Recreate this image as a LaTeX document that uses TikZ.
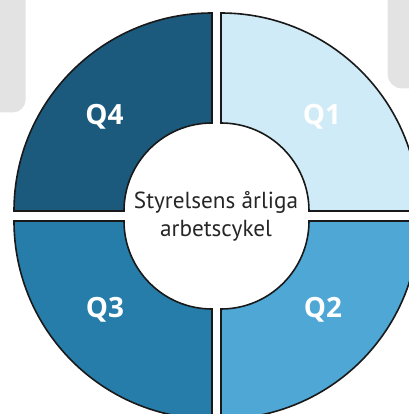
\documentclass[tikz,border=0pt]{standalone}
\usepackage{fontspec}
\setmainfont{PT Sans}
\newfontfamily\labelfont{Open Sans}
\definecolor{graybg}{HTML}{E3E3E3}
\definecolor{cQone}{HTML}{CFEBF7}
\definecolor{cQtwo}{HTML}{4FA7D5}
\definecolor{cQthree}{HTML}{267DA9}
\definecolor{cQfour}{HTML}{1B5A7D}
\begin{document}
\begin{tikzpicture}[x=1bp,y=1bp,
  quad/.style={draw=black!90, line width=1.6bp, line join=miter},
  qlabel/.style={text=white, font=\labelfont\fontsize{28}{30}\selectfont\bfseries, inner sep=0pt},
  center/.style={align=center, font=\fontsize{23.3}{28}\selectfont, text=black!85, inner sep=0pt}]
\useasboundingbox (0,0) rectangle (409,414);
\clip (0,0) rectangle (409,414);
% background gray tabs
\fill[graybg, rounded corners=13bp] (-20,301.5) rectangle (25.7,440);
\fill[graybg, rounded corners=14bp] (387.7,325.7) rectangle (440,440);
% Q4 (top left)
\begin{scope}[shift={(212,203)}]
\draw[quad, fill=cQfour] (180:198) arc[start angle=180, end angle=90, radius=198bp] -- (90:88) arc[start angle=90, end angle=180, radius=88bp] -- cycle;
\end{scope}
% Q1 (top right)
\begin{scope}[shift={(221,203)}]
\draw[quad, fill=cQone] (90:198) arc[start angle=90, end angle=0, radius=198bp] -- (0:88) arc[start angle=0, end angle=90, radius=88bp] -- cycle;
\end{scope}
% Q3 (bottom left)
\begin{scope}[shift={(212,193)}]
\draw[quad, fill=cQthree] (270:198) arc[start angle=270, end angle=180, radius=198bp] -- (180:88) arc[start angle=180, end angle=270, radius=88bp] -- cycle;
\end{scope}
% Q2 (bottom right)
\begin{scope}[shift={(221,193)}]
\draw[quad, fill=cQtwo] (0:198) arc[start angle=0, end angle=-90, radius=198bp] -- (-90:88) arc[start angle=-90, end angle=0, radius=88bp] -- cycle;
\end{scope}
% labels
\node[qlabel] (q4) at (104.5,297) {Q4};
\node[qlabel] (q1) at (322,297) {Q1};
\node[qlabel] (q3) at (105,104) {Q3};
\node[qlabel] (q2) at (323,104) {Q2};
\node[center] (title) at (216,198) {Styrelsens årliga\\arbetscykel};
\end{tikzpicture}
\end{document}
